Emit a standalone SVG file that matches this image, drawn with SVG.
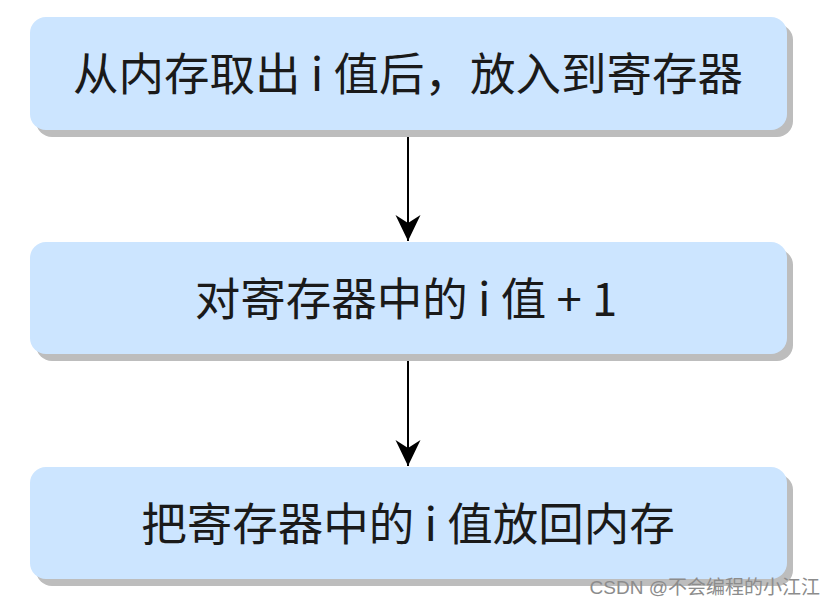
<svg xmlns="http://www.w3.org/2000/svg" width="834" height="607" viewBox="0 0 834 607">
<defs>
<style>
.box{fill:#cce5ff;}
.shadow{fill:#bdbdbd;}
.label{font-family:"Noto Sans CJK SC","Liberation Sans",sans-serif;font-size:45.5px;fill:#1a1a1a;text-anchor:middle;}
.edge{stroke:#000;stroke-width:2;fill:none;}
.wm{font-family:"Liberation Sans","Noto Sans CJK SC",sans-serif;font-size:19px;fill:#8c8c8c;text-anchor:end;}
</style>
<marker id="arrow" markerUnits="userSpaceOnUse" markerWidth="28" markerHeight="28" viewBox="0 0 28 28" refX="26" refY="14" orient="auto">
<path d="M0,1.5 L26,14 L0,26.5 L8,14 Z" fill="#000"/>
</marker>
</defs>
<rect width="834" height="607" fill="#fff"/>
<g id="connectors">
<line class="edge" x1="408" y1="131" x2="408" y2="241" marker-end="url(#arrow)"/>
<line class="edge" x1="408" y1="356" x2="408" y2="466" marker-end="url(#arrow)"/>
</g>
<g id="node1">
<rect class="shadow" x="36" y="24" width="757" height="113" rx="16"/>
<rect class="box" x="30" y="17" width="757" height="113" rx="16"/>
<text class="label" x="408" y="91">从内存取出 i 值后，放入到寄存器</text>
</g>
<g id="node2">
<rect class="shadow" x="36" y="249" width="757" height="112" rx="16"/>
<rect class="box" x="30" y="242" width="757" height="112" rx="16"/>
<text class="label" x="406" y="316">对寄存器中的 i 值 + 1</text>
</g>
<g id="node3">
<rect class="shadow" x="36" y="474" width="757" height="112" rx="16"/>
<rect class="box" x="30" y="467" width="757" height="112" rx="16"/>
<text class="label" x="408" y="541">把寄存器中的 i 值放回内存</text>
</g>
<text class="wm" x="820" y="594">CSDN @不会编程的小江江</text>
</svg>
